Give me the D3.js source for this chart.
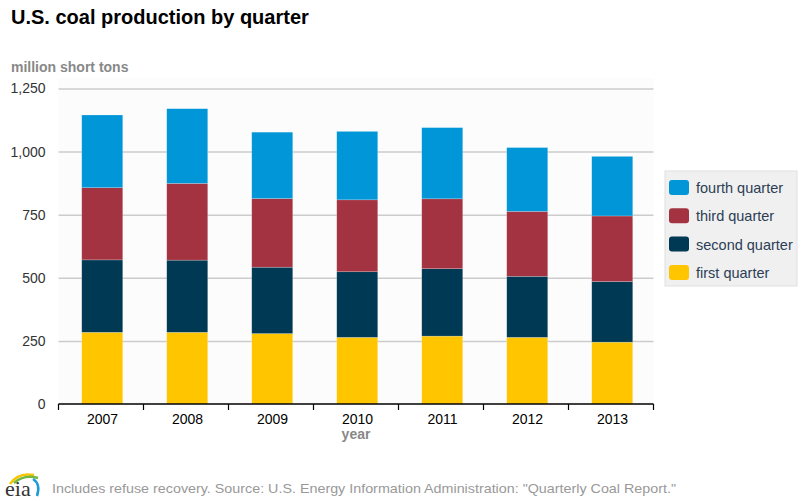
<!DOCTYPE html>
<html>
<head>
<meta charset="utf-8">
<script src="https://cdn.jsdelivr.net/npm/d3@7"></script>
<style>
  body { margin: 0; background: #fff; }
  text { font-family: "Liberation Sans", Arial, sans-serif; }
</style>
</head>
<body>
<div id="chart"></div>
<script>
// data (million short tons)
var years = ["2007", "2008", "2009", "2010", "2011", "2012", "2013"];
var quarters = ["first quarter", "second quarter", "third quarter", "fourth quarter"];
var q1 = [284, 284, 279, 264, 269, 264, 245];
var q2 = [287, 286, 263, 260, 267, 242, 240];
var q3 = [286, 304, 272, 285, 277, 257, 260];
var q4 = [288, 296, 263, 271, 282, 253, 236];
var yTicks = [0, 250, 500, 750, 1000, 1250];
var colors = ["#ffc600", "#003953", "#a33340", "#0096d7"];

var width = 803, height = 501;
var margin = {top: 88.5, right: 149.5, bottom: 97, left: 58.5};

var svg = d3.select("#chart")
    .append("svg")
    .attr("width", width)
    .attr("height", height);

// build rows for the stack
var rows = years.map(function(y, i){
    return {year: y, "first quarter": q1[i], "second quarter": q2[i],
            "third quarter": q3[i], "fourth quarter": q4[i]};
});
var series = d3.stack().keys(quarters)(rows);

var x = d3.scaleBand()
    .domain(years)
    .range([margin.left, width - margin.right])
    .paddingInner(0.5)
    .paddingOuter(0.25);

var y = d3.scaleLinear()
    .domain([0, 1250])
    .range([height - margin.bottom, margin.top]);

// title
svg.append("text")
    .attr("x", 11).attr("y", 24)
    .style("font-size", "20px").style("font-weight", "bold")
    .attr("fill", "#000")
    .text("U.S. coal production by quarter");

svg.append("text")
    .attr("x", 11).attr("y", 72)
    .style("font-size", "14px").style("font-weight", "bold")
    .attr("fill", "#888")
    .text("million short tons");

// plot background
svg.append("rect")
    .attr("x", margin.left).attr("y", margin.top - 10)
    .attr("width", width - margin.right - margin.left)
    .attr("height", y(0) - margin.top + 10)
    .attr("fill", "#fcfcfc");

// gridlines + y labels
var yAxis = svg.append("g")
    .attr("class", "yAxis")
    .attr("transform", "translate(" + margin.left + ",0)")
    .call(d3.axisLeft(y).tickValues(yTicks)
        .tickSize(-(width - margin.right - margin.left))
        .tickPadding(13)
        .tickFormat(d3.format(",")));
yAxis.select(".domain").remove();
yAxis.selectAll(".tick line")
    .attr("stroke", "#cccccc").attr("stroke-width", 1.5)
    .filter(function(d){ return d === 0; }).remove();
yAxis.selectAll(".tick text")
    .style("font-size", "14px").style("font-family", "Liberation Sans, Arial, sans-serif")
    .attr("fill", "#333");

// bars
svg.append("g").selectAll("g")
    .data(series)
    .enter().append("g")
    .attr("fill", function(d, i){ return colors[i]; })
    .selectAll("rect")
    .data(function(d){ return d; })
    .enter().append("rect")
    .attr("x", function(d){ return x(d.data.year) + 2; })
    .attr("y", function(d){ return y(d[1]); })
    .attr("width", x.bandwidth() - 1.5)
    .attr("height", function(d){ return y(d[0]) - y(d[1]); })
    .attr("stroke", "rgba(255,255,255,0.35)")
    .attr("stroke-width", 0.6);

// x axis
var xAxis = svg.append("g")
    .attr("class", "xAxis")
    .attr("transform", "translate(0," + y(0) + ")")
    .call(d3.axisBottom(x).tickSize(0).tickPadding(10));
xAxis.select(".domain").attr("stroke", "#000").attr("stroke-width", 1.5)
    .attr("d", "M" + margin.left + ",0H" + (width - margin.right));
xAxis.selectAll(".tick text")
    .attr("dx", 1.5)
    .style("font-size", "14px").style("font-family", "Liberation Sans, Arial, sans-serif")
    .attr("fill", "#000");
var step = x.step();
var edges = years.map(function(d){ return x(d) - step * 0.25; });
edges.push(x(years[years.length - 1]) + x.bandwidth() + step * 0.25);
xAxis.selectAll(".edge")
    .data(edges)
    .enter().append("line")
    .attr("x1", function(d){ return d; }).attr("x2", function(d){ return d; })
    .attr("y1", 0).attr("y2", 6)
    .attr("stroke", "#000").attr("stroke-width", 1.2);

svg.append("text")
    .attr("x", (margin.left + width - margin.right) / 2).attr("y", 439)
    .attr("text-anchor", "middle")
    .style("font-size", "14px").style("font-weight", "bold")
    .attr("fill", "#888")
    .text("year");

// legend
var legend = svg.append("g").attr("transform", "translate(665,171)");
legend.append("rect")
    .attr("x", 0).attr("y", 0).attr("width", 132).attr("height", 115)
    .attr("fill", "#f0f0f0").attr("stroke", "#e0e0e0");
var legendOrder = quarters.slice().reverse();
legend.selectAll(".item")
    .data(legendOrder)
    .enter().append("g")
    .attr("transform", function(d, i){ return "translate(4," + (9 + i * 28.3) + ")"; })
    .each(function(d){
        var g = d3.select(this);
        g.append("rect")
            .attr("width", 20).attr("height", 15).attr("rx", 3)
            .attr("fill", colors[quarters.indexOf(d)]);
        g.append("text")
            .attr("x", 27).attr("y", 13)
            .style("font-size", "14.5px")
            .attr("fill", "#2c3e55")
            .text(d);
    });

// eia logo
var logo = svg.append("g").attr("transform", "translate(4,469)");
logo.append("path").attr("d", "M6,15 Q14,3 30,6").attr("fill", "none")
    .attr("stroke", "#f7c600").attr("stroke-width", 2.5);
logo.append("path").attr("d", "M10,14 Q20,5 34,9").attr("fill", "none")
    .attr("stroke", "#74b843").attr("stroke-width", 2.5);
logo.append("path").attr("d", "M29,10 Q37,15 33,27").attr("fill", "none")
    .attr("stroke", "#1f9ad6").attr("stroke-width", 2.5);
logo.append("text")
    .attr("x", 1).attr("y", 27)
    .style("font-family", "Liberation Serif, DejaVu Serif, serif")
    .style("font-size", "22px")
    .attr("fill", "#333")
    .text("eia");

// footer
svg.append("text")
    .attr("x", 52).attr("y", 493)
    .style("font-family", "Liberation Sans Narrow, Arial Narrow, Liberation Sans, sans-serif")
    .style("font-size", "13px")
    .attr("fill", "#999")
    .attr("textLength", 624).attr("lengthAdjust", "spacingAndGlyphs")
    .text("Includes refuse recovery. Source: U.S. Energy Information Administration: \"Quarterly Coal Report.\"");
</script>
</body>
</html>
